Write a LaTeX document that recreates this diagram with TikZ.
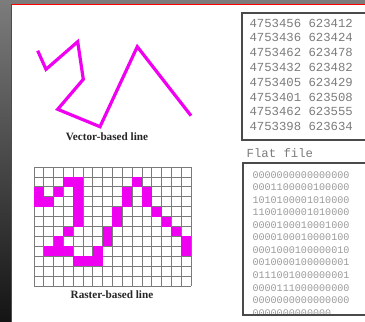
\documentclass[tikz,border=0pt]{standalone}
\usepackage{fontspec}
\setmainfont{Liberation Serif}
\setmonofont{Liberation Mono}
\definecolor{gis-line}{HTML}{F000F0}
\definecolor{gis-grid}{HTML}{7A7A7A}
\definecolor{gis-frame}{HTML}{4A4A4A}
\definecolor{gis-coord}{HTML}{7C7C7C}
\definecolor{gis-bits}{HTML}{9A9A9A}
\definecolor{gis-top}{HTML}{7C7C7C}
\definecolor{gis-bottom}{HTML}{141414}
\tikzset{
    caption/.style={font=\bfseries\fontsize{11.2}{13}\selectfont, text=black!85},
    coordtext/.style={anchor=base west, inner sep=0pt, font=\ttfamily\fontsize{12.3}{14}\selectfont, text=gis-coord},
    bittext/.style={anchor=base west, inner sep=0pt, font=\ttfamily\fontsize{10.1}{12}\selectfont, text=gis-bits}
}

\begin{document}
\begin{tikzpicture}[x=1pt, y=-1pt]
    \useasboundingbox (0,0) rectangle (365,322);
    \clip (0,0) rectangle (365,322);

    % --- Background: dark gradient behind a white sheet ---
    \shade[top color=gis-top, bottom color=gis-bottom] (0,0) rectangle (365,322);
    \fill[white] (11.5,4.5) rectangle (366,323);
    \draw[red, line width=0.8pt] (11.5,323) -- (11.5,4.5) -- (366,4.5);

    % --- Vector-based line ---
    \draw[gis-line, line width=3.2pt]
        (37.7,50.7) -- (46,69.3) -- (77.7,41.7) -- (83.3,79.3) -- (57.7,109.3)
        -- (100,126.7) -- (137.3,46.7) -- (191,115.7);
    \node[caption] (vecLabel) at (107,137) {Vector-based line};

    % --- Raster-based line: 16 x 12 cells ---
    \begin{scope}[shift={(34,167)}, x=9.81pt, y=-9.92pt]
        % Draw grid
        \foreach \c in {0,...,16} {
            \draw[gis-grid, line width=0.8pt] (\c,0) -- (\c,12);
        }
        \foreach \r in {0,...,12} {
            \draw[gis-grid, line width=0.8pt] (0,\r) -- (16,\r);
        }

        % Fill the cells the line passes through
        \foreach \c/\r in {0/2,0/3,1/3,2/2,3/1,4/1,4/2,4/3,4/4,4/5,3/6,2/7,
                           1/8,2/8,3/8,4/9,5/9,6/9,6/8,7/6,7/7,8/4,8/5,9/2,
                           9/3,10/1,11/2,11/3,12/4,13/5,14/6,15/7,15/8} {
            \fill[gis-line] (\c,\r) rectangle ++(1,1);
        }
    \end{scope}
    \node[caption] (rasLabel) at (112,294.7) {Raster-based line};

    % --- Coordinate list ---
    \foreach \pair [count=\i from 0] in {4753456 623412,4753436 623424,
            4753462 623478,4753432 623482,4753405 623429,4753401 623508,
            4753462 623555,4753398 623634} {
        \node[coordtext] (coord\i) at (249.3,{27+14.8*\i}) {\pair};
    }
    \draw[gis-frame, line width=1.6pt] (241.7,12.7) rectangle (370,140);
    \node[coordtext] (flatLabel) at (246.5,157.5) {Flat file};

    % --- Flat file of cell values ---
    \foreach \bits [count=\i from 0] in {0000000000000000,0001100000100000,
            1010100001010000,1100100001010000,0000100010001000,0000100010000100,
            0001000100000010,0010000100000001,0111001000000001,0000111000000000,
            0000000000000000,0000000000000} {
        \node[bittext] (bits\i) at (252.3,{178+12.57*\i}) {\bits};
    }
    \draw[gis-frame, line width=1.6pt] (242.7,162.7) rectangle (370,315);
\end{tikzpicture}
\end{document}
